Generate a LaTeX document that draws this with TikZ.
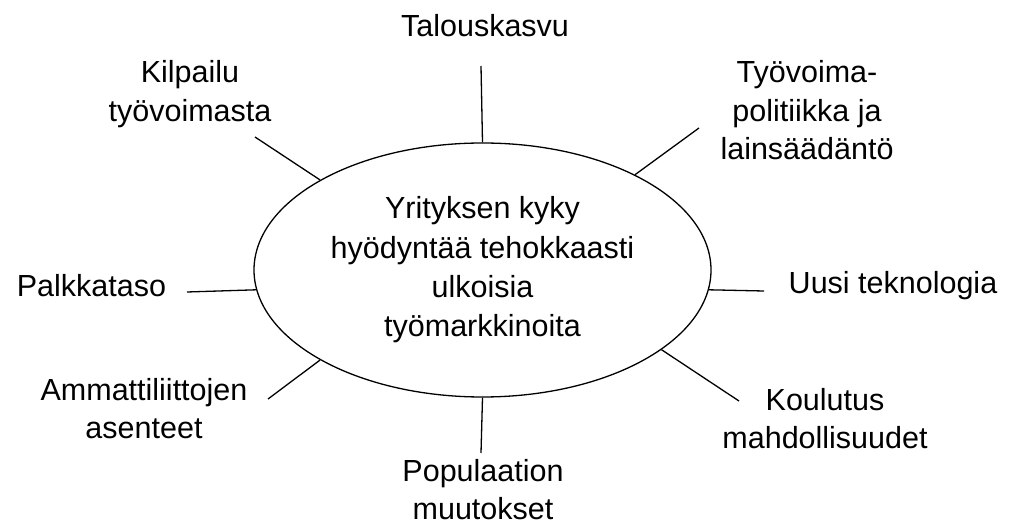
\documentclass[tikz,border=0pt]{standalone}
\usepackage{fontspec}
\setmainfont{Liberation Sans}
\usetikzlibrary{shapes.geometric}

\begin{document}
\begin{tikzpicture}[
    x=1pt, y=1pt,
    factor/.style={
        anchor=base,
        inner sep=0pt,
        align=center,
        font=\fontsize{30.5}{38.5}\selectfont
    },
    core/.style={
        ellipse,
        draw,
        line width=1.3pt,
        minimum width=457pt,
        minimum height=254pt,
        inner sep=0pt,
        align=center,
        font=\fontsize{30.5}{39.3}\selectfont
    },
    spoke/.style={
        line width=1.3pt
    }
]
\useasboundingbox (0,0) rectangle (1011,525);

\node[core] (firm) at (482.5,255) {Yrityksen kyky\\hyödyntää tehokkaasti\\ulkoisia\\työmarkkinoita};

% base anchor sits on the last line
\node[factor] (talous) at (485,488) {Talouskasvu};
\node[factor] (kilpailu) at (190,403.5) {Kilpailu\\työvoimasta};
\node[factor] (politiikka) at (807,365) {Työvoima-\\politiikka ja\\lainsäädäntö};
\node[factor] (palkka) at (91.5,228) {Palkkataso};
\node[factor] (teknologia) at (893,231) {Uusi teknologia};
\node[factor] (liitot) at (144,86.5) {Ammattiliittojen\\asenteet};
\node[factor] (koulutus) at (825,76.5) {Koulutus\\mahdollisuudet};
\node[factor] (populaatio) at (483,5.5) {Populaation\\muutokset};

\coordinate (talous-end) at (481,459);
\coordinate (kilpailu-end) at (255,388);
\coordinate (politiikka-end) at (699,397);
\coordinate (palkka-end) at (187,233);
\coordinate (teknologia-end) at (764,234);
\coordinate (liitot-end) at (268,126);
\coordinate (koulutus-end) at (739,124);
\coordinate (populaatio-end) at (481,72);

\draw[spoke] (firm.90) -- (talous-end);
\draw[spoke] (firm.151.7) -- (kilpailu-end);
\draw[spoke] (firm.32.7) -- (politiikka-end);
\draw[spoke] (firm.185.6) -- (palkka-end);
\draw[spoke] (firm.-5.6) -- (teknologia-end);
\draw[spoke] (firm.209.7) -- (liitot-end);
\draw[spoke] (firm.-24.6) -- (koulutus-end);
\draw[spoke] (firm.270) -- (populaatio-end);

\end{tikzpicture}
\end{document}
